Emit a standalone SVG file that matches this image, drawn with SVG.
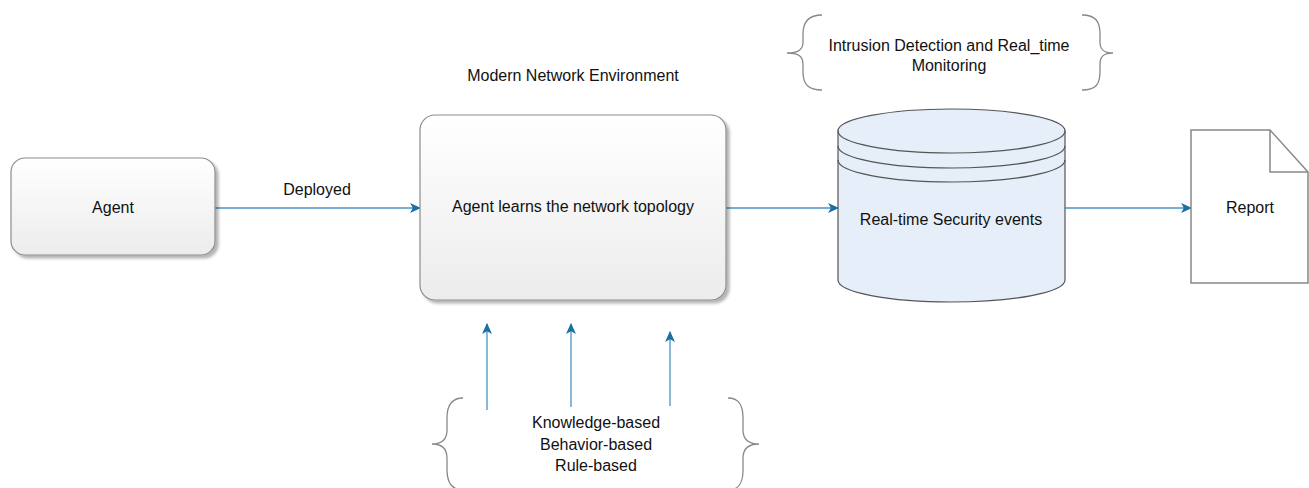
<svg xmlns="http://www.w3.org/2000/svg" width="1309" height="488" viewBox="0 0 1309 488">
<defs>
<linearGradient id="boxGrad" x1="0" y1="0" x2="0" y2="1">
<stop offset="0" stop-color="#ffffff"/>
<stop offset="1" stop-color="#ececec"/>
</linearGradient>
<filter id="shadow" x="-10%" y="-10%" width="130%" height="130%">
<feGaussianBlur in="SourceAlpha" stdDeviation="1.5"/>
<feOffset dx="3" dy="3" result="o"/>
<feComponentTransfer><feFuncA type="linear" slope="0.3"/></feComponentTransfer>
<feMerge><feMergeNode/><feMergeNode in="SourceGraphic"/></feMerge>
</filter>
<marker id="arrow" viewBox="0 0 10 10" refX="9" refY="5" markerWidth="11" markerHeight="11" markerUnits="userSpaceOnUse" orient="auto">
<path d="M0,0.5 L10,5 L0,9.5 L2.5,5 Z" fill="#1a6fa3"/>
</marker>
</defs>
<style>
text{font-family:"Liberation Sans",Arial,sans-serif;font-size:16px;fill:#111;text-anchor:middle}
.box{fill:url(#boxGrad);stroke:#8c8c8c;stroke-width:1.2}
.conn{fill:none;stroke:#4a93c4;stroke-width:1.3;marker-end:url(#arrow)}
.brace{fill:none;stroke:#888;stroke-width:1.3}
</style>
<rect width="1309" height="488" fill="#ffffff"/>

<g id="connectors">
<line class="conn" x1="215" y1="208" x2="420" y2="208"/>
<line class="conn" x1="726" y1="208" x2="838" y2="208"/>
<line class="conn" x1="1065" y1="208" x2="1191" y2="208"/>
<line class="conn" x1="487" y1="410" x2="487" y2="324"/>
<line class="conn" x1="571" y1="407" x2="571" y2="324"/>
<line class="conn" x1="670" y1="406" x2="670" y2="332"/>
<text x="317" y="195">Deployed</text>
</g>

<g id="agent">
<rect class="box" x="11" y="158" width="204" height="97" rx="14" filter="url(#shadow)"/>
<text x="113" y="213">Agent</text>
</g>

<g id="network-env-label">
<text x="573" y="81">Modern Network Environment</text>
</g>

<g id="learn">
<rect class="box" x="420" y="115" width="306" height="185" rx="15" filter="url(#shadow)"/>
<text x="573" y="212">Agent learns the network topology</text>
</g>

<g id="intrusion">
<path class="brace" d="M822,15 C808,15 803,22 803,34 L803,42 C803,50 798,53 787,53 C798,53 803,56 803,64 L803,72 C803,84 808,90 822,90"/>
<path class="brace" d="M1082,15 C1096,15 1100,22 1100,34 L1100,42 C1100,50 1104,53 1113,53 C1104,53 1100,56 1100,64 L1100,72 C1100,84 1096,90 1082,90"/>
<text x="949" y="51">Intrusion Detection and Real_time</text>
<text x="949" y="71">Monitoring</text>
</g>

<g id="events">
<path d="M838,131 A113.5,22 0 0 1 1065,131 L1065,280 A113.5,22 0 0 1 838,280 Z" fill="#e5eef9" stroke="#555" stroke-width="1.2"/>
<path d="M838,131 A113.5,22 0 0 0 1065,131" fill="none" stroke="#555" stroke-width="1.2"/>
<path d="M838,146 A113.5,22 0 0 0 1065,146" fill="none" stroke="#555" stroke-width="1.2"/>
<path d="M838,160 A113.5,22 0 0 0 1065,160" fill="none" stroke="#555" stroke-width="1.2"/>
<text x="951" y="225">Real-time Security events</text>
</g>

<g id="report">
<path d="M1191,130 L1270,130 L1308,172 L1308,283 L1191,283 Z" fill="#ffffff" stroke="#888" stroke-width="1.5"/>
<path d="M1270,130 L1270,172 L1308,172" fill="none" stroke="#888" stroke-width="1.5"/>
<text x="1250" y="213">Report</text>
</g>

<g id="methods">
<path class="brace" d="M463,398 C452,398 447,405 447,418 L447,430 C447,440 442,444 432,444 C442,444 447,448 447,458 L447,470 C447,483 452,490 463,490"/>
<path class="brace" d="M728,398 C739,398 743,405 743,418 L743,430 C743,440 749,444 759,444 C749,444 743,448 743,458 L743,470 C743,483 739,490 728,490"/>
<text x="596" y="428">Knowledge-based</text>
<text x="596" y="450">Behavior-based</text>
<text x="596" y="471">Rule-based</text>
</g>
</svg>
